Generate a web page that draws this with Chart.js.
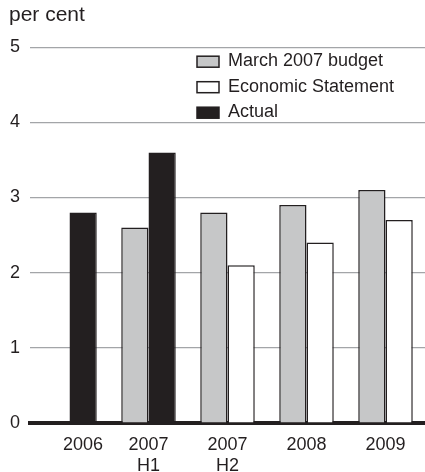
<!DOCTYPE html>
<html>
<head>
<meta charset="utf-8">
<script src="https://cdn.jsdelivr.net/npm/chart.js@4.4.0/dist/chart.umd.min.js"></script>
<style>
  html, body { margin: 0; padding: 0; background: #fff; }
  #wrap { width: 425px; height: 472px; position: relative; }
</style>
</head>
<body>
<div id="wrap"><canvas id="chart"></canvas></div>
<script>
const categories = ['2006', ['2007', 'H1'], ['2007', 'H2'], '2008', '2009'];
const budget = [null, 2.6, 2.8, 2.9, 3.1];
const statement = [null, null, 2.1, 2.4, 2.7];
const actual = [2.8, 3.6, null, null, null];
const yTicks = [0, 1, 2, 3, 4, 5];

const ink = '#231f20';
const fontFamily = '"Liberation Sans", Arial, Helvetica, sans-serif';

// legend drawn in the top right of the plot, like the original
const boxLegend = {
  id: 'boxLegend',
  afterDraw(chart) {
    const ctx = chart.ctx;
    const area = chart.chartArea;
    const x0 = area.left + 167;
    let y = area.top + 14;
    ctx.save();
    ctx.font = '18px ' + fontFamily;
    ctx.textBaseline = 'middle';
    chart.data.datasets.forEach((ds) => {
      ctx.fillStyle = ds.backgroundColor;
      ctx.fillRect(x0, y - 5, 22, 11);
      ctx.strokeStyle = ink;
      ctx.lineWidth = 1.5;
      ctx.strokeRect(x0, y - 5, 22, 11);
      ctx.fillStyle = ink;
      ctx.fillText(ds.label, x0 + 31, y);
      y += 25.5;
    });
    ctx.restore();
  }
};

const bar = (label, data, color, stack) => ({
  label: label,
  data: data,
  backgroundColor: color,
  borderColor: ink,
  borderWidth: 1.5,
  borderSkipped: 'bottom',
  stack: stack,
  categoryPercentage: 0.69,
  barPercentage: 1.0,
});

new Chart(document.getElementById('chart'), {
  type: 'bar',
  data: {
    labels: categories,
    datasets: [
      bar('March 2007 budget', budget, '#c6c7c8', 'a'),
      bar('Economic Statement', statement, '#ffffff', 'b'),
      bar('Actual', actual, ink, 'b'),
    ]
  },
  plugins: [boxLegend],
  options: {
    responsive: true,
    maintainAspectRatio: false,
    animation: false,
    layout: { padding: { left: 9, top: 0, right: -5, bottom: 0 } },
    plugins: {
      legend: { display: false },
      tooltip: { enabled: false },
      title: {
        display: true,
        text: 'per cent',
        align: 'start',
        color: ink,
        font: { family: fontFamily, size: 21, weight: 'normal' },
        padding: { top: 3, bottom: 19 },
      },
    },
    scales: {
      x: {
        stacked: true,
        grid: { display: false, drawTicks: false },
        border: { display: true, color: ink, width: 4 },
        ticks: {
          color: ink,
          padding: 11,
          maxRotation: 0,
          font: { family: fontFamily, size: 18, lineHeight: 1.2 },
          callback: function (value, index) {
            const l = this.getLabelForValue(value);
            return index === 0 ? '\u2002\u2002\u2002' + l : l;
          },
        },
        afterFit: (scale) => { scale.height = 49; },
      },
      y: {
        stacked: true,
        min: 0,
        max: 5,
        afterBuildTicks: (scale) => { scale.ticks = yTicks.map((v) => ({ value: v })); },
        grid: { color: '#a3a5a8', lineWidth: 1.2, drawTicks: false },
        border: { display: false },
        ticks: {
          color: ink,
          padding: 10,
          font: { family: fontFamily, size: 18 },
        },
        afterFit: (scale) => { scale.width = 21; },
      },
    },
  },
});
</script>
</body>
</html>
